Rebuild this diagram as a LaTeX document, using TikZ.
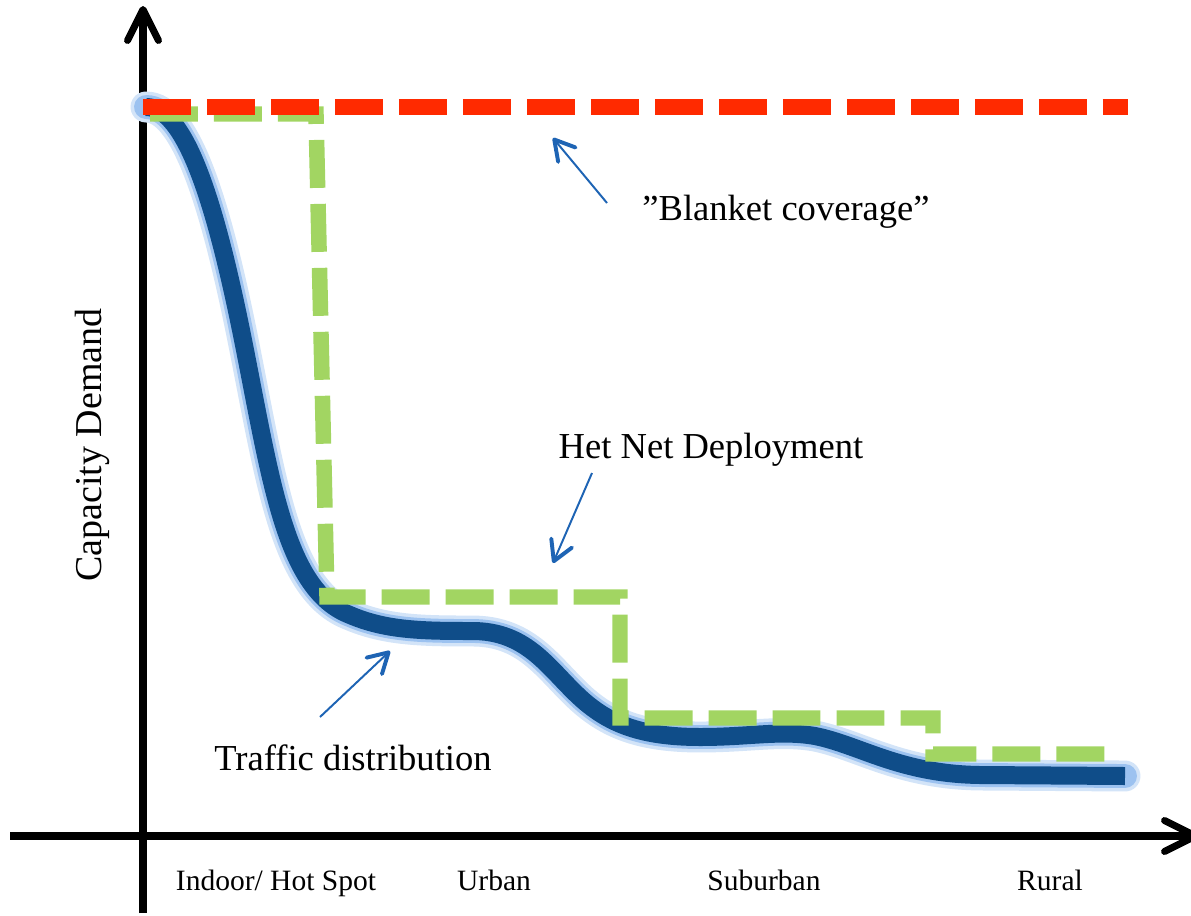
\documentclass[tikz,border=0pt]{standalone}
\usepackage{fontspec}
\setmainfont{Liberation Serif}
\usepackage{tikz}
\usetikzlibrary{arrows.meta,positioning}
\definecolor{blanketred}{HTML}{FF2A00}
\definecolor{hetgreen}{HTML}{A2D562}
\definecolor{trafficblue}{HTML}{0F4D89}
\definecolor{glowblue}{HTML}{9CC2F0}
\definecolor{haloblue}{HTML}{D3E4F8}
\definecolor{pointerblue}{HTML}{1E64B4}
\newcommand{\bigtext}{\fontsize{26}{30}\selectfont}
\newcommand{\regiontext}{\fontsize{21}{25}\selectfont}

\begin{document}
\begin{tikzpicture}[x=0.025cm, y=-0.025cm,
    axisline/.style={line width=5pt, -{Straight Barb[length=22pt, width=22pt, line width=5pt, round]}},
    pointer/.style={pointerblue, line width=1.4pt, -{Straight Barb[length=14pt, width=16pt, line width=2.8pt, round]}},
    curvelabel/.style={anchor=base, font=\bigtext},
    region/.style={anchor=base, font=\regiontext},
    dashline/.style={line width=11pt, dash pattern=on 34.1pt off 11.4pt, line join=miter}]
    \useasboundingbox (0,0) rectangle (1191,915);

    % Axes
    \coordinate (ybottom) at (143,913);
    \coordinate (ytop) at (143,6);
    \coordinate (xleft) at (10,836);
    \coordinate (xright) at (1199,836);
    \draw[axisline] (ybottom) -- (ytop);
    \draw[axisline] (xleft) -- (xright);

    % Traffic distribution curve with glow
    \draw[trafficblue, line width=12.8pt,
        preaction={draw=haloblue, line width=22pt, line cap=round},
        preaction={draw=glowblue, line width=17pt, line cap=round}]
        (146,107) .. controls (185,107) and (215,200) .. (243,340)
        .. controls (271,480) and (285,590) .. (350,615)
        .. controls (385,630) and (420,631) .. (470,631)
        .. controls (530,630) and (550,672) .. (585,702)
        .. controls (610,723) and (640,737) .. (700,737)
        .. controls (750,737) and (780,730) .. (815,736)
        .. controls (860,745) and (900,774) .. (980,775) -- (1125,776);

    % Het Net deployment steps
    \draw[hetgreen, dashline] (150,114) -- (316,114) -- (327,597) -- (620,597)
        -- (620,718) -- (933,718) -- (933,754) -- (1108,754);

    % Blanket coverage
    \draw[blanketred, dashline] (143,107) -- (1128,107);

    % Labels
    \node[curvelabel] (blanket) at (786,220) {”Blanket coverage”};
    \node[curvelabel] (hetnet) at (711,458) {Het Net Deployment};
    \node[curvelabel] (traffic) at (353,770) {Traffic distribution};
    \node[curvelabel, rotate=90, font=\fontsize{27}{31}\selectfont] (capacity) at (101,445) {Capacity Demand};

    % Regions on the x-axis
    \node[region] (indoor) at (276,890) {Indoor/ Hot Spot};
    \node[region] (urban) at (494,890) {Urban};
    \node[region] (suburban) at (764,890) {Suburban};
    \node[region] (rural) at (1050,890) {Rural};

    % Pointers
    \coordinate (blanket tail) at (607,203);
    \coordinate (blanket tip) at (553,138);
    \coordinate (hetnet tail) at (592,473);
    \coordinate (hetnet tip) at (553,563);
    \coordinate (traffic tail) at (320,717);
    \coordinate (traffic tip) at (390,651);
    \draw[pointer] (blanket tail) -- (blanket tip);
    \draw[pointer] (hetnet tail) -- (hetnet tip);
    \draw[pointer] (traffic tail) -- (traffic tip);

\end{tikzpicture}
\end{document}
